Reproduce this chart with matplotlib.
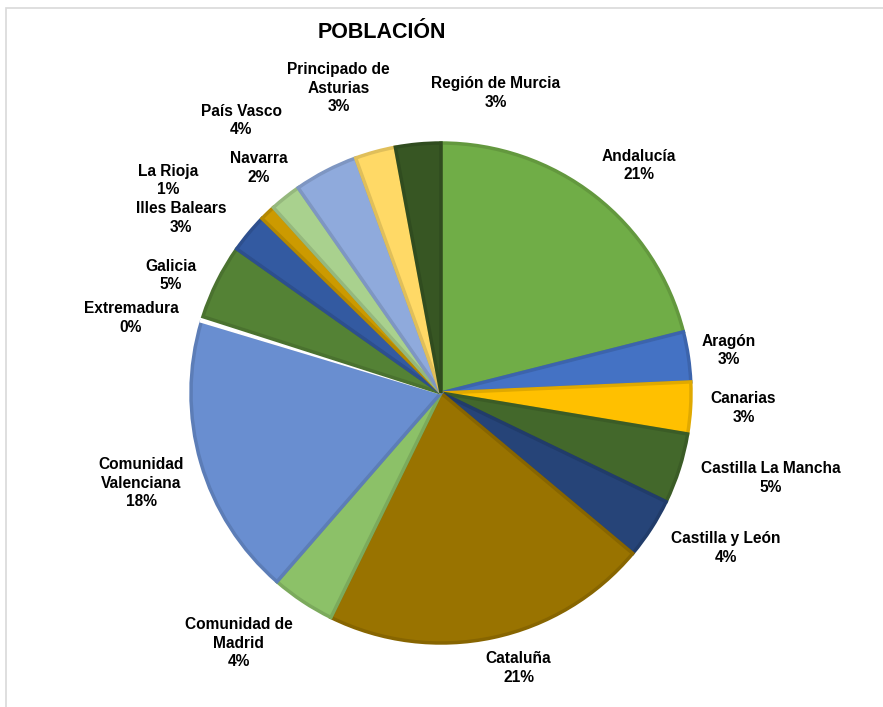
import matplotlib
matplotlib.use('Agg')
import matplotlib.pyplot as plt
import matplotlib.colors as mcolors
from matplotlib.patches import Rectangle

plt.rcParams['font.family'] = ['Liberation Sans', 'DejaVu Sans']

# datos (porcentaje de poblacion)
comunidades = ['Andalucía', 'Aragón', 'Canarias', 'Castilla La Mancha', 'Castilla y León',
               'Cataluña', 'Comunidad de\nMadrid', 'Comunidad\nValenciana', 'Extremadura',
               'Galicia', 'Illes Balears', 'La Rioja', 'Navarra', 'País Vasco',
               'Principado de\nAsturias', 'Región de Murcia']
poblacion = [20.9, 3.2, 3.3, 4.5, 3.9, 21.0, 4.1, 18.1, 0.3, 4.8, 2.5, 1.0, 2.0, 4.1, 2.6, 2.9]

colores = ['#70AD47', '#4472C4', '#FFC000', '#43682B', '#264478', '#997300', '#8CC168',
           '#698ED0', '#FFFFFF', '#548235', '#335AA1', '#CC9A00', '#A9D18E', '#8FAADC',
           '#FFD966', '#375623']

# posicion de las etiquetas (en radios del pie)
pos_etiquetas = [(0.79, 0.91), (1.15, 0.17), (1.21, -0.06), (1.32, -0.34), (1.14, -0.62),
                 (0.31, -1.10), (-0.81, -1.00), (-1.20, -0.36), (-1.24, 0.30), (-1.08, 0.47),
                 (-1.04, 0.70), (-1.09, 0.85), (-0.73, 0.90), (-0.80, 1.09), (-0.41, 1.22),
                 (0.22, 1.20)]

fig = plt.figure(figsize=(8.83, 7.07), dpi=100)
ax = fig.add_axes([0, 0, 1, 1])

# marco gris
fig.patches.append(Rectangle((6 / 883, -0.05), 1.1, 1 - 8 / 707 + 0.05, transform=fig.transFigure,
                             fill=False, edgecolor='#D9D9D9', linewidth=1.2))

bordes = [tuple(c * 0.88 for c in mcolors.to_rgb(col)) for col in colores]
bordes[8] = 'white'
wedges, _ = ax.pie(poblacion, colors=colores, startangle=90, counterclock=False,
                   radius=1, center=(0, 0), frame=True)
for w, b in zip(wedges, bordes):
    w.set_edgecolor(b)
    w.set_linewidth(2.5)
ax.set_xlim(-441 / 250, (883 - 441) / 250)
ax.set_ylim(-314 / 250, (707 - 314) / 250)
ax.set_aspect('auto')
ax.axis('off')

total = sum(poblacion)
for nombre, val, (x, y) in zip(comunidades, poblacion, pos_etiquetas):
    ax.text(x, y, f'{nombre}\n{round(val / total * 100)}%', ha='center', va='center',
            fontsize=11.2, fontweight='bold', linespacing=1.3)

fig.text(382 / 883, 1 - 32 / 707, 'POBLACIÓN', ha='center', va='center',
         fontsize=15.5, fontweight='bold')

plt.savefig('out.png', dpi=100)
